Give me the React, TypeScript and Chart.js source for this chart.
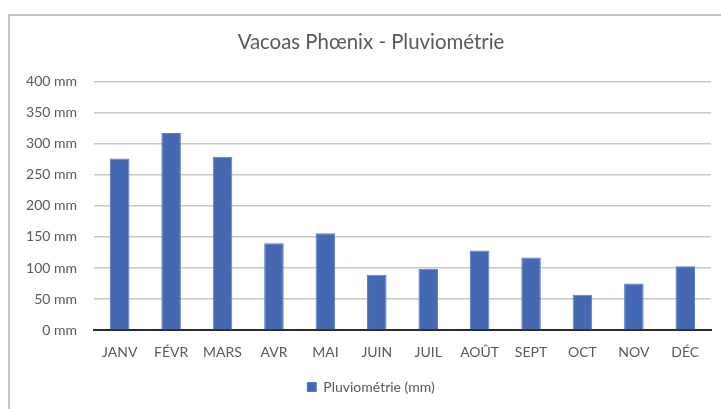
import React, { useEffect, useRef } from "react";
import { Chart, registerables } from "chart.js";

Chart.register(...registerables);

const categories = ["JANV", "FÉVR", "MARS", "AVR", "MAI", "JUIN", "JUIL", "AOÛT", "SEPT", "OCT", "NOV", "DÉC"];
const rainfall = [276, 317, 279, 140, 156, 89, 99, 128, 117, 57, 75, 103];
const seriesLabel = "Pluviométrie (mm)";
const titleText = "Vacoas Phœnix - Pluviométrie";

const FONT = "Lato, 'Open Sans', sans-serif";
const GRAY = "#595959";

export default function App() {
  const ref = useRef<HTMLCanvasElement | null>(null);

  useEffect(() => {
    if (!ref.current) return;
    const chart = new Chart(ref.current, {
      type: "bar",
      data: {
        labels: categories,
        datasets: [
          {
            label: seriesLabel,
            data: rainfall,
            backgroundColor: "#4568b3",
            borderColor: "#5b7cc4",
            borderWidth: 1,
            categoryPercentage: 1,
            barPercentage: 0.38,
            yAxisID: "y",
          },
        ],
      },
      options: {
        animation: false,
        responsive: false,
        layout: { padding: { left: 20, right: 18, top: 0, bottom: 5 } },
        plugins: {
          title: {
            display: true,
            text: titleText,
            color: GRAY,
            font: { family: FONT, size: 20.4, weight: "normal" },
            padding: { top: 30, bottom: 27 },
          },
          legend: {
            display: true,
            position: "bottom",
            labels: {
              color: GRAY,
              font: { family: FONT, size: 14 },
              boxWidth: 9,
              boxHeight: 9,
              padding: 5,
            },
          },
          tooltip: { enabled: false },
        },
        scales: {
          x: {
            grid: { display: false, drawTicks: false },
            border: { display: true, color: "#2a2a2a", width: 2 },
            ticks: { color: GRAY, font: { family: FONT, size: 14 }, padding: 14, maxRotation: 0 },
          },
          y: {
            position: "left",
            min: 0,
            max: 400,
            afterFit: (scale: any) => {
              scale.width = 74;
            },
            grid: { color: "#c8c8c8", lineWidth: 1.5, drawTicks: false },
            border: { display: false },
            ticks: {
              stepSize: 50,
              color: GRAY,
              font: { family: FONT, size: 14 },
              padding: 17,
              callback: (v: any) => `${v} mm`,
            },
          },
          y2: {
            position: "right",
            display: true,
            min: 0,
            max: 400,
            afterFit: (scale: any) => {
              scale.width = 11;
            },
            grid: { display: false, drawTicks: false },
            border: { display: false },
            ticks: { display: false },
          },
        },
      },
    });
    return () => chart.destroy();
  }, []);

  return (
    <div style={{ position: "fixed", left: 0, top: 0, width: 721, height: 409, background: "#fff", overflow: "hidden" }}>
      <div
        style={{
          position: "absolute",
          left: 8,
          top: 14,
          width: 760,
          height: 450,
          border: "2px solid #c4c4c4",
          boxSizing: "border-box",
        }}
      />
      <canvas ref={ref} width={740} height={409} style={{ position: "absolute", left: 0, top: 0 }} />
    </div>
  );
}
